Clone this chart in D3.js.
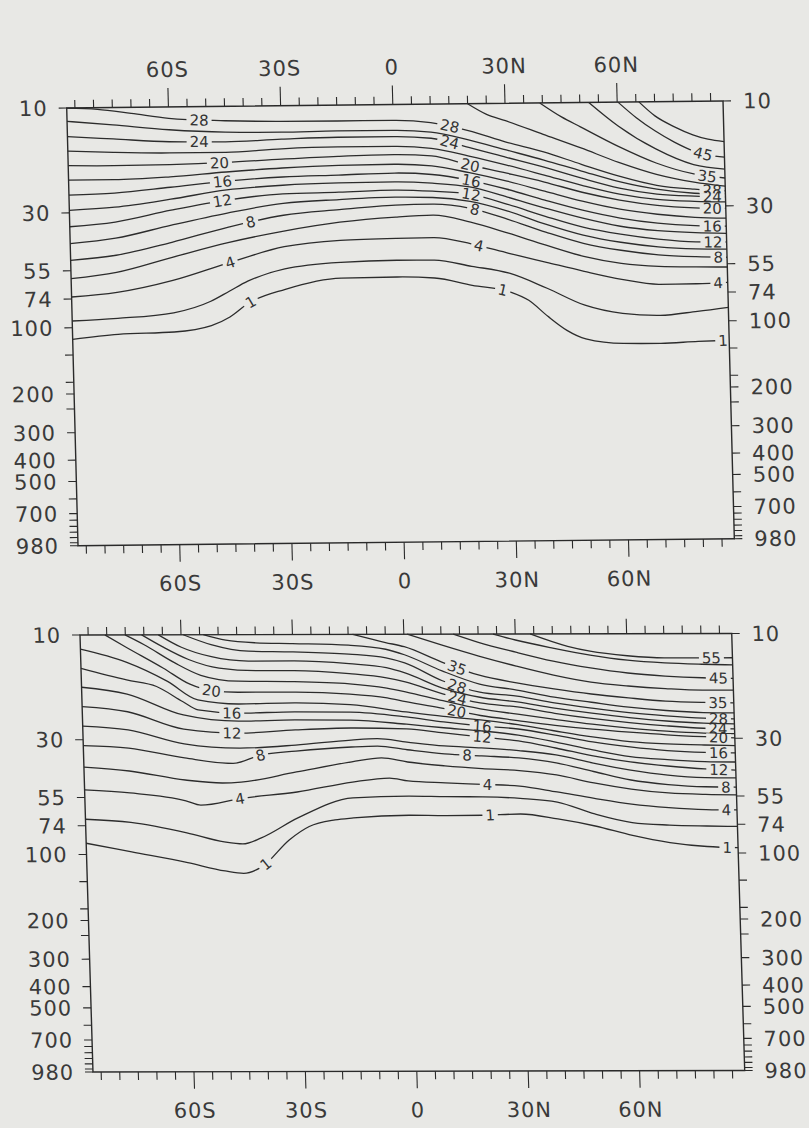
<!DOCTYPE html>
<meta charset="utf-8">
<style>
  body { margin: 0; background: #e8e8e5; }
  svg { display: block; }
  .frame { stroke: #2a2a2a; stroke-width: 1.4px; }
  .tick { stroke: #2a2a2a; stroke-width: 1.1px; }
  .contour { fill: none; stroke: #2c2c2c; stroke-width: 1.3px; }
  .ticklabel { font-family: "DejaVu Sans", sans-serif; font-size: 21px; fill: #3a3a3a; letter-spacing: 1px; }
  .clabel text { font-family: "DejaVu Sans", sans-serif; font-size: 15px; fill: #333; }
</style>
<body>
<script src="https://cdn.jsdelivr.net/npm/d3@7/dist/d3.min.js"></script>
<script>

// axes
var latTicks = [-60, -30, 0, 30, 60];
var latTickText = ["60S", "30S", "0", "30N", "60N"];
var latMinor = [-85, -80, -75, -70, -65, -55, -50, -45, -40, -35, -25, -20, -15, -10, -5,
                5, 10, 15, 20, 25, 35, 40, 45, 50, 55, 65, 70, 75, 80, 85];
var pressureLabels = [10, 30, 55, 74, 100, 200, 300, 400, 500, 700, 980];
var pressureTicks = [10, 30, 55, 74, 100, 133, 177, 200, 234, 300, 400, 500, 600, 700,
                     750, 800, 850, 900, 950, 980];

// upper panel: [level, [[lat, hPa], ...]]
var topLines = [
  [1, [[-87.2,112.8],[-75,107.6],[-60,105.7],[-50,99.3],[-45,90.9],[-40,78.9],[-30,68.4],[-15,61.2],[0,60.9],[10,61.8],[20,67.0],[30,72.0],[35,78.9],[40,93.5],[45,108.5],[50,118.9],[60,125.2],[70,125.7],[80,123.6],[88.3,122.7]]],
  [2, [[-87.2,93.1],[-75,91.0],[-60,86.4],[-50,76.9],[-45,69.4],[-40,62.6],[-30,55.2],[-15,51.9],[0,51.1],[10,51.3],[20,54.9],[30,59.3],[40,69.7],[50,83.6],[60,91.4],[70,93.7],[80,90.2],[88.3,86.8]]],
  [4, [[-87.2,72.4],[-75,69.3],[-60,61.5],[-45,51.5],[-30,43.8],[-15,41.2],[0,40.6],[10,40.5],[20,43.4],[30,48.1],[40,53.1],[50,58.6],[60,64.0],[70,67.7],[80,67.6],[88.3,66.8]]],
  [6, [[-87.2,59.7],[-75,56.2],[-60,48.3],[-45,41.7],[-30,37.2],[-15,34.1],[0,32.5],[10,32.0],[20,34.6],[30,39.0],[40,44.4],[50,50.1],[60,54.1],[70,56.1],[80,56.7],[88.3,56.9]]],
  [8, [[-87.2,49.3],[-75,47.0],[-60,41.3],[-45,35.5],[-30,31.5],[-15,29.9],[0,28.7],[10,28.5],[20,29.9],[30,33.7],[40,38.7],[50,43.7],[60,47.2],[70,49.7],[80,50.9],[88.3,51.4]]],
  [10, [[-87.2,41.4],[-75,39.3],[-60,34.5],[-45,30.6],[-30,27.8],[-15,26.9],[0,26.4],[10,26.6],[20,27.8],[30,30.9],[40,35.6],[50,40.1],[60,43.4],[70,45.7],[80,46.9],[88.3,47.2]]],
  [12, [[-87.2,34.7],[-75,33.2],[-60,29.5],[-45,26.7],[-30,25.2],[-15,24.9],[0,24.5],[10,24.9],[20,25.8],[30,28.8],[40,32.8],[50,36.9],[60,39.9],[70,42.2],[80,43.6],[88.3,43.8]]],
  [14, [[-87.2,29.2],[-75,28.4],[-60,26.3],[-45,24.0],[-30,23.0],[-15,22.6],[0,22.5],[10,22.9],[20,23.9],[30,26.7],[40,30.1],[50,33.6],[60,36.7],[70,38.6],[80,39.6],[88.3,40.0]]],
  [16, [[-87.2,24.9],[-75,24.5],[-60,23.2],[-45,21.9],[-30,21.1],[-15,20.8],[0,20.5],[10,20.9],[20,22.3],[30,24.6],[40,27.7],[50,30.9],[60,33.7],[70,35.7],[80,36.8],[88.3,37.1]]],
  [18, [[-87.2,21.3],[-75,21.3],[-60,20.8],[-45,19.9],[-30,19.2],[-15,18.8],[0,18.7],[10,19.1],[20,20.6],[30,22.6],[40,25.2],[50,28.1],[60,30.7],[70,32.5],[80,33.7],[88.3,34.1]]],
  [20, [[-87.2,18.3],[-75,18.4],[-60,18.3],[-45,18.0],[-30,17.5],[-15,17.1],[0,16.9],[10,17.2],[20,19.0],[30,20.8],[40,22.9],[50,25.6],[60,27.9],[70,29.6],[80,30.5],[88.3,30.8]]],
  [22, [[-87.2,15.7],[-75,16.0],[-60,16.2],[-45,16.2],[-30,15.7],[-15,15.5],[0,15.5],[10,15.9],[20,17.3],[30,19.1],[40,21.3],[50,23.8],[60,26.2],[70,27.8],[80,28.5],[88.3,28.8]]],
  [24, [[-87.2,13.5],[-75,13.9],[-60,14.4],[-45,14.5],[-30,14.2],[-15,14.0],[0,14.0],[10,14.3],[20,15.8],[30,17.6],[40,19.6],[50,22.1],[60,24.6],[70,26.3],[80,27.0],[88.3,27.3]]],
  [26, [[-87.2,11.5],[-75,12.0],[-60,12.7],[-45,13.1],[-30,13.2],[-15,13.1],[0,13.1],[10,13.4],[20,14.6],[30,16.3],[40,18.2],[50,20.5],[60,23.0],[70,25.0],[80,26.2],[88.3,26.5]]],
  [28, [[-87.2,10.02],[-79,10.17],[-70,10.65],[-60,11.27],[-45,11.63],[-30,11.78],[-15,11.81],[0,11.8],[10,12.13],[20,13.24],[30,15.0],[40,16.7],[50,19.1],[60,21.7],[70,24.0],[80,25.1],[88.3,25.6]]],
  [30, [[20,10],[25,11.2],[30,12.0],[40,13.9],[50,16.1],[60,18.8],[70,21.4],[80,23.3],[88.3,24.4]]],
  [35, [[39.3,10],[45,11.6],[50,12.9],[60,15.9],[70,19.0],[80,21.4],[88.3,22.4]]],
  [40, [[52.4,10],[60,12.8],[70,16.4],[80,19.4],[88.3,20.4]]],
  [45, [[60.2,10],[65,11.8],[70,13.6],[75,15.3],[80,16.8],[84,17.6],[88.3,18.0]]],
  [50, [[65.8,10],[70,11.6],[75,13.0],[80,14.2],[84,14.9],[88.3,15.3]]]
];
// [level, lat of label]
var topLabels = [
  [28,-51.9],[24,-52],[20,-46.8],[16,-46.1],[12,-46.2],[8,-38.8],[4,-44.6],[1,-39.3],
  [28,15.1],[24,15],[20,20.3],[16,20.4],[12,20.3],[8,21.2],[4,22],[1,28.1],
  [45,82.6],[35,83.5],[28,84.8],[24,84.8],[20,84.7],[16,84.6],[12,84.6],[8,85.9],[4,85.8],[1,86.6]
];

// lower panel
var bottomLines = [
  [1, [[-87.2,88.9],[-75,97.5],[-60,109.2],[-50,119.3],[-45,122.3],[-40,114.1],[-32.5,86.3],[-27,75.0],[-20,70.0],[-15,68.6],[0,66.8],[10,67.1],[20,66.9],[30,66.1],[40,69.7],[50,75.1],[60,83.0],[70,89.5],[80,93.4],[88.3,94.6]]],
  [2, [[-87.2,69.1],[-75,71.5],[-60,79.9],[-50,88.0],[-45,89.9],[-40,84.4],[-30,68.5],[-15,55.6],[0,54.6],[10,55.0],[20,55.2],[30,56.1],[40,58.4],[50,66.2],[60,72.5],[70,74.5],[80,75.3],[88.3,75.7]]],
  [4, [[-87.2,50.8],[-75,52.5],[-60,57.1],[-56,59.8],[-45,55.7],[-30,52.2],[-15,47.1],[-5,45.2],[0,46.6],[10,47.6],[20,48.4],[30,49.3],[40,52.5],[50,56.2],[60,59.7],[70,62.0],[80,63.4],[88.3,63.7]]],
  [6, [[-87.2,40.0],[-75,41.7],[-60,45.9],[-50,47.4],[-45,47.0],[-30,42.3],[-15,38.1],[-7,36.6],[0,38.2],[10,39.8],[20,41.0],[30,41.9],[40,43.9],[50,47.8],[60,51.0],[70,53.2],[80,54.1],[88.3,54.4]]],
  [8, [[-87.2,31.9],[-75,32.8],[-60,36.4],[-47,38.6],[-39.5,35.4],[-30,34.0],[-15,32.6],[-8,32.3],[0,33.6],[10,35.1],[20,35.9],[30,36.7],[40,38.7],[50,42.4],[60,46.4],[70,48.7],[80,49.9],[88.3,50.1]]],
  [10, [[-87.2,26.0],[-75,27.1],[-60,31.4],[-45,32.9],[-30,31.9],[-15,30.3],[-8,29.9],[0,31.0],[10,32.3],[20,33.0],[30,34.0],[40,35.6],[50,38.8],[60,41.8],[70,44.1],[80,45.3],[88.3,45.5]]],
  [12, [[-87.2,21.2],[-75,22.4],[-60,26.9],[-45,28.1],[-30,27.2],[-15,26.7],[0,27.0],[10,28.2],[20,29.4],[30,30.7],[40,33.1],[50,36.0],[60,38.4],[70,40.1],[80,41.4],[88.3,41.9]]],
  [14, [[-87.2,17.3],[-75,18.6],[-60,23.2],[-45,24.8],[-30,24.5],[-15,24.6],[0,25.7],[10,26.7],[20,27.6],[30,28.9],[40,31.1],[50,33.8],[60,36.3],[70,37.5],[80,38.3],[88.3,38.5]]],
  [16, [[-87.2,14.2],[-75,16.05],[-67,17.2],[-60,20.2],[-56,22.0],[-45,22.8],[-30,22.5],[-15,22.6],[0,23.8],[10,25.1],[20,26.2],[30,27.1],[40,28.9],[50,31.1],[60,32.8],[70,34.1],[80,34.8],[88.3,35.0]]],
  [18, [[-87.2,11.6],[-75,13.3],[-64,16.3],[-56,19.8],[-45,20.7],[-30,20.5],[-15,20.9],[0,22.6],[10,23.7],[20,24.6],[30,25.9],[40,27.7],[50,29.5],[60,31.0],[70,31.8],[80,32.2],[88.3,32.4]]],
  [20, [[-80.5,10],[-75,11.35],[-65,14.2],[-58,16.8],[-52,18.0],[-45,18.3],[-30,18.3],[-15,18.7],[-5,19.5],[0,20.3],[10,21.8],[20,23.5],[30,24.8],[40,26.1],[50,27.2],[60,28.1],[70,28.9],[80,29.5],[88.3,29.9]]],
  [22, [[-75.1,10],[-70,11.1],[-62,13.4],[-55,15.3],[-45,16.3],[-30,16.4],[-15,16.8],[-5,17.6],[0,18.3],[10,20.1],[20,21.9],[30,23.2],[40,24.5],[50,25.8],[60,26.9],[70,27.8],[80,28.4],[88.3,28.6]]],
  [24, [[-70.6,10],[-65,11.35],[-58,13.0],[-50,14.2],[-40,14.6],[-30,14.6],[-15,15.1],[-5,15.8],[0,16.5],[10,18.7],[20,20.6],[30,21.5],[40,23.0],[50,24.3],[60,25.4],[70,26.3],[80,27.0],[88.3,27.2]]],
  [26, [[-66.1,10],[-60,11.4],[-52,12.6],[-42,13.2],[-30,13.2],[-15,13.6],[-5,14.2],[0,15.0],[10,17.6],[20,19.4],[30,20.4],[40,21.8],[50,23.0],[60,24.1],[70,25.0],[80,25.6],[88.3,25.8]]],
  [28, [[-59.4,10],[-52,11.1],[-42,11.9],[-30,12.0],[-15,12.3],[-5,12.8],[0,13.5],[10,16.3],[20,18.4],[30,19.2],[40,20.6],[50,21.8],[60,22.9],[70,23.7],[80,24.3],[88.3,24.5]]],
  [30, [[-54,10],[-48,10.6],[-40,10.9],[-30,11.0],[-15,11.2],[-5,11.7],[0,12.4],[10,14.7],[20,16.9],[30,18.0],[40,19.4],[50,20.5],[60,21.6],[70,22.4],[80,22.9],[88.3,23.0]]],
  [35, [[-13.8,10],[-5,10.9],[0,11.4],[10,13.4],[20,15.4],[30,16.7],[40,17.8],[50,18.8],[60,19.6],[70,20.3],[80,20.6],[88.3,20.7]]],
  [40, [[0.9,10],[10,11.2],[20,12.6],[30,14.0],[40,15.4],[50,16.6],[60,17.3],[70,17.8],[80,18.1],[88.3,18.1]]],
  [45, [[13.3,10],[20,10.9],[30,12.1],[40,13.3],[50,14.3],[60,15.1],[70,15.6],[80,15.9],[88.3,16.0]]],
  [50, [[24,10],[30,10.65],[40,11.6],[50,12.5],[60,13.2],[70,13.6],[80,13.8],[88.3,13.9]]],
  [55, [[34,10],[44,11.4],[50,12.0],[60,12.6],[70,12.9],[80,12.9],[88.3,12.9]]]
];
var bottomLabels = [
  [20,-52.2],[16,-46.9],[12,-47.1],[8,-39.5],[4,-45.4],[1,-39],
  [35,14],[28,13.9],[24,13.9],[20,13.7],[16,20.4],[12,20.3],[8,16],[4,21.4],[1,21.8],
  [55,82.7],[45,84.3],[35,84],[28,84],[24,83.9],[20,83.9],[16,83.8],[12,83.7],[8,85.5],[4,85.5],[1,85.3]
];

var bg = "#e8e8e5";
var width = 809, height = 1128;
var W = 655, H = 437;

var svg = d3.select("body").append("svg")
  .attr("width", width)
  .attr("height", height);

svg.append("rect").attr("width", width).attr("height", height).attr("fill", bg);

var x = d3.scaleLinear().domain([-87.2, 88.3]).range([0, W]);
var y = d3.scaleLog().domain([10, 980]).range([0, H]);

var line = d3.line()
  .x(function(d) { return x(d[0]); })
  .y(function(d) { return y(d[1]); })
  .curve(d3.curveMonotoneX);

// the scanned page is slightly skewed, so each panel sits in its own affine frame
function drawPanel(matrix, lines, labels, opt) {
  var g = svg.append("g").attr("transform", "matrix(" + matrix.join(",") + ")");

  var paths = g.selectAll(".contour")
    .data(lines)
    .enter().append("path")
    .attr("class", "contour")
    .attr("d", function(d) { return line(d[1]); });

  // sample each path so labels can sit on it
  var samples = {};
  paths.each(function(d) {
    var len = this.getTotalLength(), pts = [];
    for (var s = 0; s <= len; s += 0.5) pts.push(this.getPointAtLength(s));
    samples[d[0]] = pts;
  });

  labels.forEach(function(lb) {
    var pts = samples[lb[0]], tx = x(lb[1]);
    var i = d3.minIndex(pts, function(p) { return Math.abs(p.x - tx); });
    var a = pts[Math.max(0, i - 8)], b = pts[Math.min(pts.length - 1, i + 8)];
    var ang = Math.atan2(b.y - a.y, b.x - a.x) * 180 / Math.PI;
    var lg = g.append("g").attr("class", "clabel")
      .attr("transform", "translate(" + pts[i].x + "," + pts[i].y + ") rotate(" + ang + ")");
    var t = lg.append("text").attr("text-anchor", "middle").attr("dy", "0.36em").text(lb[0]);
    var bb = t.node().getBBox();
    lg.insert("rect", "text")
      .attr("x", bb.x - 3).attr("y", -3.5)
      .attr("width", bb.width + 6).attr("height", 7)
      .attr("fill", bg);
  });

  // pressure ticks, both sides
  g.selectAll(".ptl").data(pressureTicks).enter().append("line")
    .attr("class", "tick").attr("x1", -8).attr("x2", 0)
    .attr("y1", function(d) { return y(d); }).attr("y2", function(d) { return y(d); });
  g.selectAll(".ptr").data(pressureTicks).enter().append("line")
    .attr("class", "tick").attr("x1", W).attr("x2", W + 8)
    .attr("y1", function(d) { return y(d); }).attr("y2", function(d) { return y(d); });

  g.selectAll(".pll").data(pressureLabels).enter().append("text")
    .attr("class", "ticklabel").attr("text-anchor", "end")
    .attr("x", -19).attr("y", function(d) { return y(d); }).attr("dy", "0.36em")
    .text(function(d) { return d; });
  g.selectAll(".plr").data(pressureLabels).enter().append("text")
    .attr("class", "ticklabel").attr("text-anchor", "start")
    .attr("x", W + 20).attr("y", function(d) { return y(d); }).attr("dy", "0.36em")
    .text(function(d) { return d; });

  // latitude ticks
  function latTicksAt(yy, dir, minorLen, majorLen) {
    g.append("g").selectAll("line").data(latMinor).enter().append("line")
      .attr("class", "tick")
      .attr("x1", function(d) { return x(d); }).attr("x2", function(d) { return x(d); })
      .attr("y1", yy).attr("y2", yy + dir * minorLen);
    g.append("g").selectAll("line").data(latTicks).enter().append("line")
      .attr("class", "tick")
      .attr("x1", function(d) { return x(d); }).attr("x2", function(d) { return x(d); })
      .attr("y1", yy).attr("y2", yy + dir * majorLen);
  }
  latTicksAt(0, -1, 8, opt.topMajor);
  latTicksAt(H, 1, 8, 17);

  function latLabelsAt(yy) {
    g.append("g").selectAll("text").data(latTicks).enter().append("text")
      .attr("class", "ticklabel").attr("text-anchor", "middle")
      .attr("x", function(d) { return x(d); }).attr("y", yy)
      .text(function(d, i) { return latTickText[i]; });
  }
  if (opt.topLabels) latLabelsAt(-30);
  latLabelsAt(H + 46);

  // frame
  g.append("rect").attr("class", "frame")
    .attr("width", W).attr("height", H).attr("fill", "none");
}

drawPanel([1.002, -0.0107, 0.0259, 1.0016, 66.7, 108], topLines, topLabels,
  { topLabels: true, topMajor: 19 });
drawPanel([0.995, -0.0023, 0.0297, 1.0, 80, 635], bottomLines, bottomLabels,
  { topLabels: false, topMajor: 15 });

</script>
</body>
